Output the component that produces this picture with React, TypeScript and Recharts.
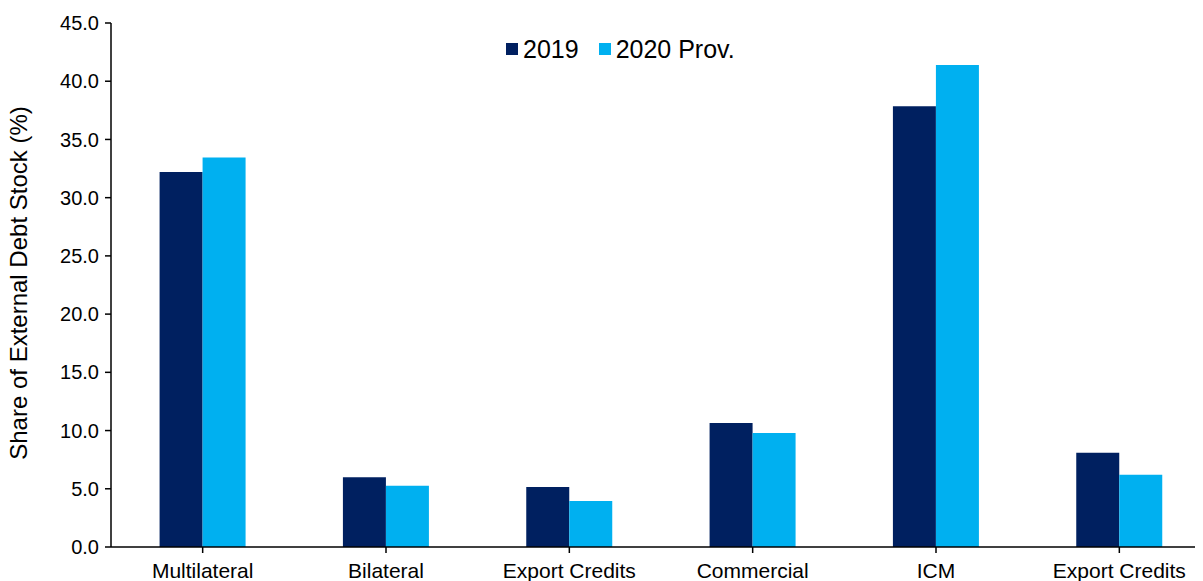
import React from "react";
import { BarChart, Bar, XAxis, YAxis, Legend, Label } from "recharts";

const categories = ["Multilateral", "Bilateral", "Export Credits", "Commercial", "ICM", "Export Credits "];
const series2019 = [32.2, 6.0, 5.15, 10.65, 37.85, 8.1];
const series2020 = [33.45, 5.25, 3.95, 9.8, 41.4, 6.2];
const yTicks = [0, 5, 10, 15, 20, 25, 30, 35, 40, 45];
const seriesNames = ["2019", "2020 Prov."];
const seriesColors = ["#002060", "#00B0F0"];

const data = categories.map((c, i) => ({ name: c, s2019: series2019[i], s2020: series2020[i] }));

const FONT = "'Liberation Sans', Arial, sans-serif";

const YTick = (props: any) => {
  const { x, y, payload } = props;
  return (
    <text x={x} y={y} dy="0.355em" textAnchor="end" fontSize={20} fontFamily={FONT} fill="#000">
      {Number(payload.value).toFixed(1)}
    </text>
  );
};

const XTick = (props: any) => {
  const { x, y, payload } = props;
  return (
    <text x={x} y={y} dy="0.71em" textAnchor="middle" fontSize={21} fontFamily={FONT} fill="#000">
      {String(payload.value).trim()}
    </text>
  );
};

const YLabel = (props: any) => {
  const vb = props.viewBox || { y: 23, height: 524 };
  const cy = vb.y + vb.height / 2;
  return (
    <text transform={`translate(27,${cy - 2}) rotate(-90)`} textAnchor="middle" fontSize={24} fontFamily={FONT} fill="#000">
      Share of External Debt Stock (%)
    </text>
  );
};

const LegendContent = () => (
  <div style={{ display: "flex", alignItems: "center", fontFamily: FONT, whiteSpace: "nowrap" }}>
    {seriesNames.map((n, i) => (
      <div key={n} style={{ display: "flex", alignItems: "center", marginRight: i === 0 ? 20 : 0 }}>
        <div style={{ width: 12, height: 12, background: seriesColors[i], marginRight: 5 }} />
        <span style={{ fontSize: 25, color: "#000", lineHeight: "26px" }}>{n}</span>
      </div>
    ))}
  </div>
);

export default function App() {
  return (
    <div style={{ margin: "-8px 0 0 -8px", width: 1203, height: 581, overflow: "hidden", background: "#fff", position: "relative" }}>
      <BarChart
        width={1220}
        height={600}
        data={data}
        margin={{ top: 23, right: 9, bottom: 23, left: 0 }}
        barCategoryGap="26.5%"
        barGap={0}
      >
        <XAxis
          dataKey="name"
          height={30}
          tick={<XTick />}
          tickSize={6}
          tickMargin={10}
          axisLine={{ stroke: "#000", strokeWidth: 1.5 }}
          tickLine={{ stroke: "#000", strokeWidth: 1.5 }}
          interval={0}
        />
        <YAxis
          width={111}
          domain={[0, 45]}
          ticks={yTicks}
          tick={<YTick />}
          tickSize={6}
          tickMargin={6}
          axisLine={{ stroke: "#000", strokeWidth: 1.5 }}
          tickLine={{ stroke: "#000", strokeWidth: 1.5 }}
          interval={0}
        >
          <Label content={<YLabel />} />
        </YAxis>
        <Legend
          verticalAlign="middle"
          align="center"
          content={<LegendContent />}
          wrapperStyle={{ position: "absolute", top: 36, left: 506, width: "auto" }}
        />
        <Bar dataKey="s2019" name={seriesNames[0]} fill={seriesColors[0]} isAnimationActive={false} />
        <Bar dataKey="s2020" name={seriesNames[1]} fill={seriesColors[1]} isAnimationActive={false} />
      </BarChart>
    </div>
  );
}
